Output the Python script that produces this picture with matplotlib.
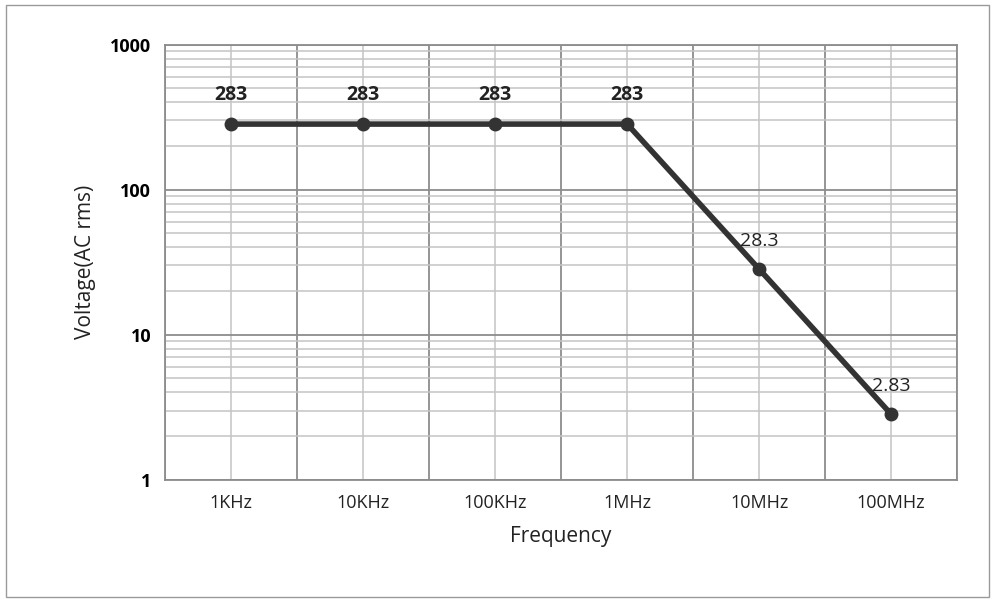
import matplotlib
matplotlib.use("Agg")
import matplotlib.pyplot as plt
from matplotlib.ticker import FixedLocator, LogLocator, NullFormatter
from matplotlib.patches import Rectangle

categories = ["1KHz", "10KHz", "100KHz", "1MHz", "10MHz", "100MHz"]
values = [283, 283, 283, 283, 28.3, 2.83]
labels = ["283", "283", "283", "283", "28.3", "2.83"]
label_bold = [True, True, True, True, False, False]

plt.rcParams['font.family'] = ['Open Sans', 'DejaVu Sans']
fig = plt.figure(figsize=(9.95, 6.02), dpi=100)
fig.patches.append(Rectangle((0.006, 0.008), 0.988, 0.984, transform=fig.transFigure,
                             fill=False, edgecolor='#9a9a9a', lw=1))
ax = fig.add_axes([0.166, 0.203, 0.796, 0.723])
x = list(range(len(categories)))
ax.plot(x, values, color='#333333', lw=4, marker='o', ms=9, zorder=3)
ax.set_yscale('log')
ax.set_ylim(1, 1000)
ax.set_xlim(-0.5, len(categories) - 0.5)
ax.set_xticks(x)
ax.set_xticklabels(categories, fontsize=13, color='#222222')
ax.xaxis.set_minor_locator(FixedLocator([i - 0.5 for i in range(len(categories) + 1)]))
ax.set_yticks([1, 10, 100, 1000])
ax.set_yticklabels(["1", "10", "100", "1000"], fontsize=13, fontweight='bold')
ax.yaxis.set_minor_locator(LogLocator(base=10, subs=range(2, 10)))
ax.yaxis.set_minor_formatter(NullFormatter())
ax.tick_params(which='both', length=0)
ax.tick_params(axis='x', pad=10)
ax.tick_params(axis='y', pad=10)
ax.grid(True, axis='y', which='major', color='#8c8c8c', lw=1.3)
ax.grid(True, axis='y', which='minor', color='#c4c4c4', lw=1.1)
ax.grid(True, axis='x', which='minor', color='#8c8c8c', lw=1.3)
ax.grid(True, axis='x', which='major', color='#c4c4c4', lw=1.1)
for s in ax.spines.values():
    s.set_color('#8c8c8c')
    s.set_linewidth(1.3)
for xi, v, t, b in zip(x, values, labels, label_bold):
    ax.annotate(t, (xi, v), xytext=(0, 14), textcoords='offset points', ha='center',
                va='bottom', fontsize=14, fontweight='bold' if b else 'normal', color='#222222')
ax.set_xlabel("Frequency", fontsize=15, labelpad=10, color='#222222')
ax.set_ylabel("Voltage(AC rms)", fontsize=15, labelpad=10, color='#222222')
fig.savefig("out.png", dpi=100)
